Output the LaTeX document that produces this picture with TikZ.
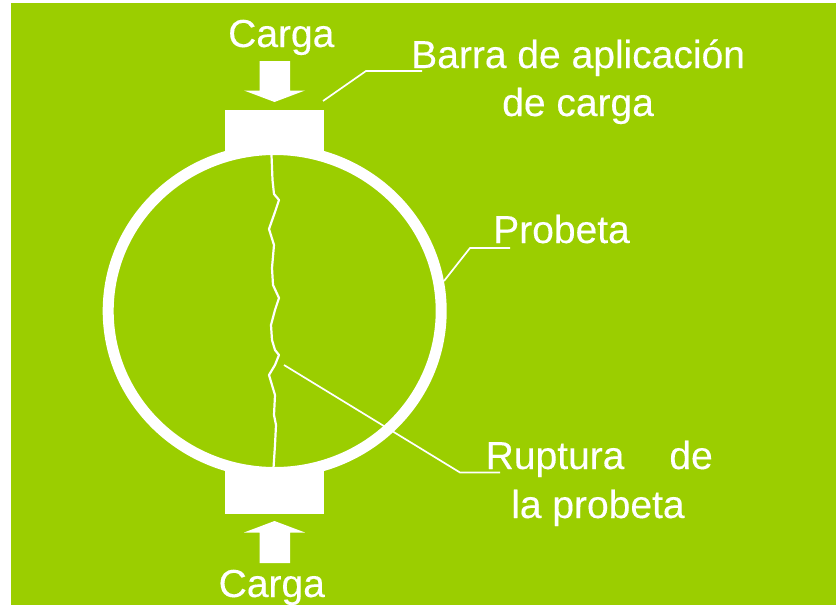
\documentclass[tikz,border=0pt]{standalone}
\usepackage{fontspec}
\setmainfont[FakeBold=0.25]{Liberation Sans}
\definecolor{bggreen}{RGB}{155,206,0}
\tikzset{
  lab/.style={text=white,inner sep=0pt,anchor=base west,font=\fontsize{39}{46}\selectfont},
  leader/.style={draw=white,line width=1.7pt},
  crack/.style={draw=white,line width=2.2pt,line join=round},
  solidw/.style={fill=white,draw=none},
  ring/.style={draw=white,line width=11pt}
}
\begin{document}
\begin{tikzpicture}[x=1pt,y=-1pt]
\useasboundingbox (0,0) rectangle (836,605);
\fill[white] (0,0) rectangle (836,605);
\fill[bggreen] (11,3) rectangle (836,605);
% specimen ring
\draw[ring] (274.7,311) ellipse [x radius=166.5,y radius=161.5];
% load bars
\path[solidw] (225,110) rectangle (324,151);
\path[solidw] (225,470) rectangle (324,513.5);
% load arrows
\path[solidw] (259.5,61) -- (290,61) -- (290,90.5) -- (305,90.5) -- (274.5,102) -- (244,90.5) -- (259.5,90.5) -- cycle;
\path[solidw] (259.5,563) -- (290,563) -- (290,532.5) -- (305,532.5) -- (274.5,521) -- (244,532.5) -- (259.5,532.5) -- cycle;
% crack
\draw[crack] (271.5,155) -- (272.5,180) -- (274,194) -- (279,200) -- (275,212) -- (269,229) -- (274,245) -- (272,268) -- (273,285) -- (279,298) -- (275,310) -- (271,325) -- (272,340) -- (275,350) -- (279,355) -- (275,365) -- (269,375) -- (275,395) -- (274,415) -- (276,425) -- (275,445) -- (273.5,468);
% texts
\node[lab] (cargaTop) at (228,47) {Carga};
\node[lab] (cargaBot) at (218.5,597) {Carga};
\node[lab] (barra) at (411,68) {Barra de aplicación};
\node[lab] (decarga) at (502,116) {de carga};
\node[lab] (probeta) at (493,243) {Probeta};
\node[lab] (ruptura) at (485.5,469) {Ruptura\hspace{45pt}de};
\node[lab] (laprobeta) at (511,518) {la probeta};
% leaders
\coordinate (barA) at (323,101);
\coordinate (barB) at (366,71);
\coordinate (barC) at (422,71);
\coordinate (proA) at (444,281);
\coordinate (proB) at (470,248);
\coordinate (proC) at (510,248);
\coordinate (rupA) at (284,365);
\coordinate (rupB) at (460,472.5);
\coordinate (rupC) at (500,472.5);
\draw[leader] (barA) -- (barB) -- (barC);
\draw[leader] (proA) -- (proB) -- (proC);
\draw[leader] (rupA) -- (rupB) -- (rupC);
\end{tikzpicture}
\end{document}
